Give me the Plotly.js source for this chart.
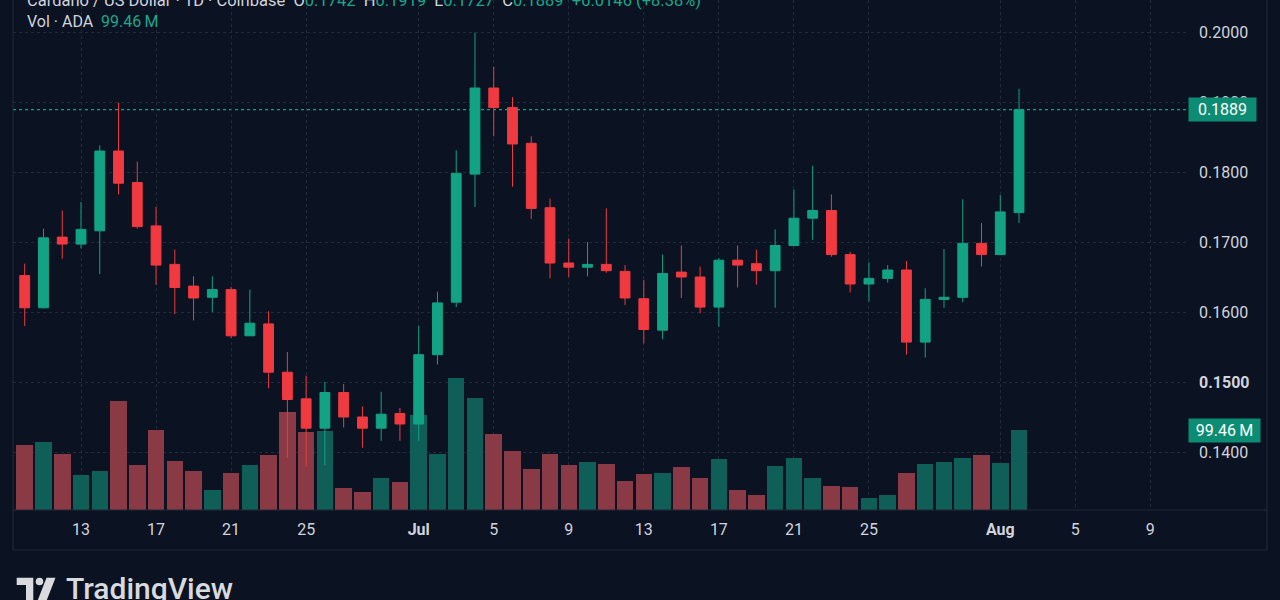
<!DOCTYPE html>
<html>
<head>
<meta charset="utf-8">
<script src="https://cdn.plot.ly/plotly-3.0.1.min.js"></script>
<style>
html,body{margin:0;padding:0;background:#0b1221;}
#chart{width:1280px;height:600px;}
</style>
</head>
<body>
<div id="chart"></div>
<script>
const dates = ['2024-06-10','2024-06-11','2024-06-12','2024-06-13','2024-06-14','2024-06-15','2024-06-16','2024-06-17','2024-06-18','2024-06-19',
'2024-06-20','2024-06-21','2024-06-22','2024-06-23','2024-06-24','2024-06-25','2024-06-26','2024-06-27','2024-06-28','2024-06-29',
'2024-06-30','2024-07-01','2024-07-02','2024-07-03','2024-07-04','2024-07-05','2024-07-06','2024-07-07','2024-07-08','2024-07-09',
'2024-07-10','2024-07-11','2024-07-12','2024-07-13','2024-07-14','2024-07-15','2024-07-16','2024-07-17','2024-07-18','2024-07-19',
'2024-07-20','2024-07-21','2024-07-22','2024-07-23','2024-07-24','2024-07-25','2024-07-26','2024-07-27','2024-07-28','2024-07-29',
'2024-07-30','2024-07-31','2024-08-01','2024-08-02'];
const open  = [0.1652,0.1606,0.1707,0.1697,0.1716,0.1830,0.1785,0.1723,0.1668,0.1637,
0.1621,0.1632,0.1566,0.1583,0.1514,0.1476,0.1434,0.1485,0.1450,0.1434,
0.1455,0.1440,0.1539,0.1614,0.1797,0.1920,0.1892,0.1841,0.1749,0.1670,
0.1664,0.1668,0.1658,0.1619,0.1574,0.1657,0.1650,0.1607,0.1674,0.1669,
0.1659,0.1695,0.1734,0.1745,0.1682,0.1640,0.1648,0.1660,0.1557,0.1618,
0.1621,0.1698,0.1682,0.1742];
const high  = [0.1669,0.1719,0.1745,0.1757,0.1838,0.1899,0.1815,0.1750,0.1689,0.1651,
0.1651,0.1636,0.1632,0.1601,0.1543,0.1509,0.1500,0.1497,0.1465,0.1486,
0.1463,0.1580,0.1629,0.1831,0.1999,0.1950,0.1907,0.1851,0.1762,0.1705,
0.1700,0.1748,0.1667,0.1646,0.1682,0.1695,0.1665,0.1677,0.1695,0.1689,
0.1718,0.1775,0.1809,0.1768,0.1686,0.1671,0.1667,0.1673,0.1634,0.1690,
0.1761,0.1727,0.1767,0.1919];
const low   = [0.1580,0.1605,0.1676,0.1691,0.1654,0.1768,0.1719,0.1639,0.1597,0.1588,
0.1600,0.1563,0.1566,0.1491,0.1392,0.1379,0.1381,0.1435,0.1406,0.1416,
0.1416,0.1416,0.1525,0.1607,0.1750,0.1851,0.1779,0.1733,0.1648,0.1650,
0.1651,0.1656,0.1610,0.1555,0.1561,0.1620,0.1598,0.1579,0.1635,0.1639,
0.1606,0.1694,0.1703,0.1679,0.1628,0.1615,0.1642,0.1539,0.1535,0.1606,
0.1614,0.1665,0.1681,0.1727];
const close = [0.1606,0.1706,0.1697,0.1718,0.1830,0.1784,0.1722,0.1667,0.1635,0.1620,
0.1632,0.1566,0.1584,0.1514,0.1475,0.1434,0.1485,0.1450,0.1434,0.1454,
0.1440,0.1539,0.1613,0.1798,0.1920,0.1892,0.1840,0.1748,0.1670,0.1664,
0.1668,0.1659,0.1620,0.1575,0.1655,0.1650,0.1607,0.1674,0.1667,0.1659,
0.1695,0.1734,0.1745,0.1682,0.1640,0.1648,0.1660,0.1557,0.1618,0.1621,
0.1698,0.1682,0.1743,0.1889];
const volumeM = [80.4,84.5,69.2,43.9,48.1,135.5,55.9,99.1,61.3,48.1,
25.2,46.0,56.3,68.4,122.2,96.6,97.8,27.4,22.4,39.4,
35.2,117.7,70.0,164.5,138.9,94.5,73.4,50.6,69.2,55.6,
60.0,57.6,35.7,44.4,45.6,53.1,39.4,63.4,25.2,18.6,
55.1,64.3,39.4,29.5,28.6,14.5,18.3,46.4,57.6,60.0,
64.6,68.0,58.1,99.46];
const priceTicks = [0.14,0.15,0.16,0.17,0.18,0.19,0.20];
const priceTickText = ['0.1400','<b>0.1500</b>','0.1600','0.1700','0.1800','0.1900','0.2000'];
const dateTicks = ['2024-06-13','2024-06-17','2024-06-21','2024-06-25','2024-07-01','2024-07-05','2024-07-09','2024-07-13','2024-07-17','2024-07-21','2024-07-25','2024-08-01','2024-08-05','2024-08-09'];
const dateTickText = ['13','17','21','25','<b>Jul</b>','5','9','13','17','21','25','<b>Aug</b>','5','9'];
const symbolTitle = 'Cardano / US Dollar · 1D · Coinbase';
const volTitle = 'Vol · ADA';

const UP='#12a385', DOWN='#f03a40', VUP='#0f5e58', VDOWN='#8a3a44';
const LBLGREEN='#0c8c73', TXTGREEN='#1fa68b', TXT='#d1d4dc', GRID='#232b3b', BG='#0b1221';

// plot area in pixels
const L=13, R=1188, T=0, B=510;
const px = x => (x-L)/(R-L);
const py = y => (B-y)/(B-T);

const n = close.length;
const volColors = close.map((c,i)=> c>=open[i] ? VUP : VDOWN);

const volTrace = {
  type:'bar', x:dates, y:volumeM, xaxis:'x', yaxis:'y',
  marker:{color:volColors, line:{width:0}},
  width: 0.88*86400000, hoverinfo:'skip'
};
const candle = {
  type:'candlestick', x:dates, open:open, high:high, low:low, close:close,
  xaxis:'x', yaxis:'y2',
  increasing:{line:{color:UP,width:1}, fillcolor:UP},
  decreasing:{line:{color:DOWN,width:1}, fillcolor:DOWN},
  whiskerwidth:0, hoverinfo:'skip'
};

const lastO=open[n-1], lastH=high[n-1], lastL=low[n-1], lastC=close[n-1];
const chg = lastC-close[n-2];
const pct = chg/close[n-2]*100;
const g = s => '<span style="color:'+TXTGREEN+'">'+s+'</span>';
const sp = '\u00a0\u00a0';
const header = symbolTitle + sp + 'O' + g(lastO.toFixed(4)) + sp + 'H' + g(lastH.toFixed(4)) + sp +
  'L' + g(lastL.toFixed(4)) + sp + 'C' + g(lastC.toFixed(4)) + sp +
  g((chg>=0?'+':'') + chg.toFixed(4) + ' (' + (pct>=0?'+':'') + pct.toFixed(2) + '%)');
const volLine = volTitle + '\u00a0\u00a0' + g(volumeM[n-1].toFixed(2)+'\u2009M');

const lineC='#232a3a';
const shapes = [
  {type:'line', xref:'paper', yref:'y2', x0:0, x1:1, y0:lastC, y1:lastC, line:{color:UP, width:1.3, dash:'dot'}, layer:'below'},
  {type:'line', xref:'paper', yref:'paper', x0:0, x1:0, y0:py(550), y1:1, line:{color:lineC, width:1}},
  {type:'line', xref:'paper', yref:'paper', x0:px(1267), x1:px(1267), y0:py(550), y1:1, line:{color:lineC, width:1}},
  {type:'line', xref:'paper', yref:'paper', x0:0, x1:px(1267), y0:0, y1:0, line:{color:lineC, width:1}},
  {type:'line', xref:'paper', yref:'paper', x0:0, x1:px(1267), y0:py(550), y1:py(550), line:{color:lineC, width:1}},
  // TradingView logo
  {type:'path', xref:'paper', yref:'paper', fillcolor:'#d8dade', line:{width:0},
   path:'M'+px(16.7)+','+py(577.7)+' L'+px(33.3)+','+py(577.7)+' L'+px(33.3)+','+py(606)+' L'+px(26)+','+py(606)+' L'+px(26)+','+py(585)+' L'+px(16.7)+','+py(585)+' Z'},
  {type:'circle', xref:'paper', yref:'paper', fillcolor:'#d8dade', line:{width:0},
   x0:px(35.7), x1:px(43.3), y0:py(585.3), y1:py(577.7)},
  {type:'path', xref:'paper', yref:'paper', fillcolor:'#d8dade', line:{width:0},
   path:'M'+px(46.5)+','+py(577.7)+' L'+px(55.5)+','+py(577.7)+' L'+px(44.5)+','+py(606)+' L'+px(35.5)+','+py(606)+' Z'}
];

const annotations = [
  {xref:'paper', yref:'paper', x:px(25), y:py(0), xanchor:'left', yanchor:'middle', showarrow:false, align:'left',
   text:header, font:{family:'Roboto', size:16.5, color:TXT}},
  {xref:'paper', yref:'paper', x:px(25), y:py(21.5), xanchor:'left', yanchor:'middle', showarrow:false, align:'left',
   text:volLine, font:{family:'Roboto', size:16, color:TXT}},
  {xref:'paper', yref:'y2', x:1, y:lastC, xanchor:'left', yanchor:'middle', showarrow:false,
   text:lastC.toFixed(4), bgcolor:LBLGREEN, width:65, height:21, borderpad:1, align:'center',
   font:{family:'Roboto', size:16, color:'#ffffff'}},
  {xref:'paper', yref:'y', x:1, y:volumeM[n-1], xanchor:'left', yanchor:'middle', showarrow:false,
   text:volumeM[n-1].toFixed(2)+'\u2009M', bgcolor:LBLGREEN, width:69, height:21, borderpad:1, align:'center',
   font:{family:'Roboto', size:16, color:'#ffffff'}},
  {xref:'paper', yref:'paper', x:px(64), y:py(588), xanchor:'left', yanchor:'middle', showarrow:false,
   text:'TradingView', font:{family:'Roboto', size:30, weight:500, color:'#d8dade'}}
];

const layout = {
  width:1280, height:600,
  paper_bgcolor:BG, plot_bgcolor:BG,
  margin:{l:L, r:1280-R, t:T, b:600-B},
  showlegend:false, hovermode:false, dragmode:false,
  boxgap:0.25,
  bargap:0,
  xaxis:{type:'date', range:['2024-06-09 09:00','2024-08-11 00:10'],
    tickvals:dateTicks, ticktext:dateTickText, ticks:'', showline:false, zeroline:false,
    showgrid:true, gridcolor:GRID, griddash:'dot', gridwidth:1,
    tickfont:{family:'Roboto', size:16, color:TXT}, ticklabelstandoff:8,
    rangeslider:{visible:false}, fixedrange:true},
  yaxis:{range:[0, 634.06], visible:false, showgrid:false, zeroline:false, fixedrange:true},
  yaxis2:{overlaying:'y', side:'right', range:[0.131714, 0.204571],
    tickvals:priceTicks, ticktext:priceTickText, ticks:'', showline:false, zeroline:false,
    showgrid:true, gridcolor:GRID, griddash:'dot', gridwidth:1,
    tickfont:{family:'Roboto', size:16, color:TXT}, ticklabelstandoff:10, fixedrange:true},
  shapes:shapes,
  annotations:annotations
};

Plotly.newPlot('chart', [volTrace, candle], layout, {staticPlot:true, displayModeBar:false});
</script>
</body>
</html>
